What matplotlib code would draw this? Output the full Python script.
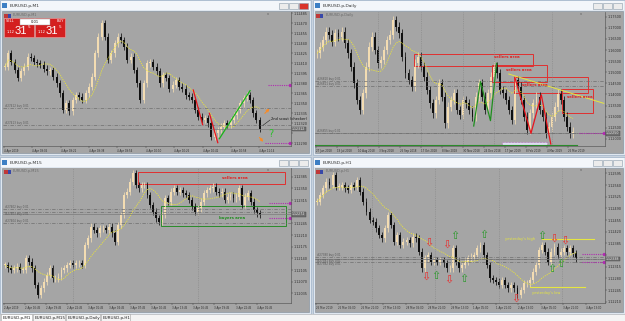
import numpy as np
import matplotlib
matplotlib.use("Agg")
import matplotlib.pyplot as plt
from matplotlib.patches import Rectangle
from matplotlib.ticker import MultipleLocator

W, H = 625, 321
GRAY = '#a5a5a5'
BULL = '#f3dcb2'
BEAR = '#101010'
MA_COL = '#e9e43a'
LEVEL = '#6e6e6e'
PURPLE = '#b02cb0'
RED = '#e8141c'
GREEN = '#22a022'

# EURUSD.p,M1 closes, points above base
m1_base, m1_unit = 1.12280, 1e-5
m1_close = [125, 145, 132, 120, 108, 118, 125, 140, 138, 132, 130, 128, 122, 118, 120, 110, 100, 85, 60, 70,
            58, 75, 82, 80, 75, 85, 95, 110, 145, 170, 190, 170, 135, 145, 160, 170, 165, 155, 135, 140,
            120, 100, 75, 100, 130, 132, 125, 118, 100, 112, 108, 92, 98, 105, 95, 92, 82, 80, 75, 60,
            50, 45, 48, 40, 20, 25, 30, 35, 40, 38, 45, 52, 60, 70, 78, 82, 75, 55, 45, 32]
m1_times = ["4 Apr 2019", "4 Apr 09:06", "4 Apr 09:22", "4 Apr 09:38", "4 Apr 09:54",
            "4 Apr 10:10", "4 Apr 10:26", "4 Apr 10:42", "4 Apr 10:58", "4 Apr 11:14"]

# EURUSD.p,Daily closes, pips above base
d1_base, d1_unit = 1.1150, 1e-4
d1_close = [435, 465, 495, 532, 518, 488, 525, 510, 532, 480,
            435, 375, 300, 225, 180, 255, 375, 465, 510, 450,
            390, 405, 450, 495, 518, 585, 555, 525, 420, 345,
            315, 285, 390, 420, 375, 330, 270, 210, 165, 225,
            300, 240, 120, 195, 225, 255, 180, 158, 225, 210,
            180, 150, 240, 300, 240, 180, 255, 330, 375, 345,
            270, 255, 225, 180, 135, 315, 285, 225, 150, 90,
            165, 210, 240, 180, 150, 75, 105, 150, 195, 255,
            225, 150, 105, 75, 82]
d1_times = ["27 Jun 2018", "19 Jul 2018", "10 Aug 2018", "3 Sep 2018", "25 Sep 2018", "17 Oct 2018",
            "8 Nov 2018", "30 Nov 2018", "24 Dec 2018", "17 Jan 2019", "8 Feb 2019", "4 Mar 2019",
            "26 Mar 2019"]

# EURUSD.p,M15 closes, points above base
m15_base, m15_unit = 1.12000, 1e-5
m15_close = [120, 110, 105, 110, 115, 105, 105, 140, 130, 110,
             60, 30, 50, 70, 90, 110, 80, 80, 85, 105,
             110, 120, 125, 120, 125, 125, 120, 180, 200, 235,
             225, 215, 230, 230, 225, 235, 215, 190, 240, 270,
             330, 340, 370, 395, 360, 350, 360, 360, 330, 300,
             280, 260, 250, 270, 320, 310, 340, 350, 340, 345,
             335, 330, 315, 295, 280, 290, 310, 335, 345, 350,
             355, 340, 335, 340, 315, 325, 330, 320, 325, 350,
             300, 325, 335, 310, 285, 275, 270]
m15_times = ["2 Apr 2019", "2 Apr 16:45", "2 Apr 19:45", "2 Apr 22:45", "3 Apr 01:45", "3 Apr 04:45",
             "3 Apr 07:45", "3 Apr 10:45", "3 Apr 13:45", "3 Apr 16:45", "3 Apr 19:45", "3 Apr 22:45",
             "4 Apr 01:45"]

# EURUSD.p,H1 closes, points above base
h1_base, h1_unit = 1.12200, 1e-5
h1_close = [310, 330, 350, 370, 360, 390, 355, 355, 360, 350,
            345, 360, 355, 375, 340, 310, 280, 255, 250, 230,
            210, 200, 230, 270, 240, 190, 210, 180, 190, 195,
            185, 205, 200, 160, 110, 140, 150, 130, 135, 130,
            135, 125, 110, 110, 170, 130, 110, 120, 130, 140,
            145, 150, 170, 180, 150, 120, 80, 75, 70, 60,
            75, 60, 50, 60, 50, 30, 45, 65, 65, 75,
            100, 120, 165, 180, 160, 130, 160, 175, 150, 160,
            170, 160, 170, 155, 140]
h1_times = ["25 Mar 2019", "26 Mar 05:00", "26 Mar 21:00", "27 Mar 13:00", "28 Mar 05:00", "28 Mar 21:00",
            "29 Mar 13:00", "1 Apr 05:00", "1 Apr 21:00", "2 Apr 13:00", "3 Apr 05:00", "3 Apr 21:00",
            "4 Apr 13:00"]
h1_down = [(35.1, 85), (36.2, 188), (42.2, 182), (42.7, 75), (64.5, 18), (76.8, 200), (80.3, 192)]
h1_up = [(38.4, 88), (44.6, 207), (47.7, 78), (54.1, 210), (73.0, 207), (76.0, 107), (79.1, 123)]

fig = plt.figure(figsize=(W / 100, H / 100), dpi=100)
fig.patch.set_facecolor('#c9d3de')


def fx(x):
    return x / W


def fy(y):
    return 1 - y / H


def rect_px(x0, y0, x1, y1, z=-5, **kw):
    r = Rectangle((fx(x0), fy(y1)), (x1 - x0) / W, (y1 - y0) / H, transform=fig.transFigure,
                  zorder=z, **kw)
    fig.add_artist(r)
    return r


def text_px(x, y, s, **kw):
    return fig.text(fx(x), fy(y), s, **kw)


def window(x0, y0, x1, y1, title, active):
    rect_px(x0, y0, x1, y1, fc='#dfe7f0', ec='#9fb3c8', lw=0.5)
    rect_px(x0 + 1, y0 + 1, x1 - 1, y0 + 10, fc='#f3f6fa', ec='none')
    rect_px(x0 + 2, y0 + 2.5, x0 + 7, y0 + 8, fc='#3d7fc4', ec='none')
    text_px(x0 + 10, y0 + 5.8, title, fontsize=3.2, color='#333333', va='center')
    for i in range(3):
        bx = x1 - 32 + i * 10
        fc = '#d9342b' if (active and i == 2) else '#ececec'
        rect_px(bx, y0 + 3, bx + 9, y0 + 8.5, fc=fc, ec='#8a9aaa', lw=0.4)
    rect_px(x0 + 2, y0 + 11, x1 - 2, y1 - 2, fc=GRAY, ec='#7d8a96', lw=0.4)


def chart(box, closes, base, unit, wick, ma_n, xlim, ylim, ystep, times, tstep, name, tag):
    ax = fig.add_axes([fx(box[0]), fy(box[3]), (box[2] - box[0]) / W, (box[3] - box[1]) / H])
    ax.set_facecolor(GRAY)
    c = base + np.asarray(closes, float) * unit
    o = np.r_[c[0], c[:-1]]
    x = np.arange(len(c))
    cols = np.where(c >= o, BULL, BEAR)
    ax.vlines(x, np.minimum(o, c) - wick * unit, np.maximum(o, c) + wick * unit, colors=cols, lw=0.55)
    ax.bar(x, np.maximum(np.abs(c - o), 1.5 * unit), bottom=np.minimum(o, c), width=0.62,
           color=cols, lw=0)
    m = np.array([c[max(0, i - ma_n + 1):i + 1].mean() for i in range(len(c))])
    ax.plot(x, m, color=MA_COL, lw=0.6, ls=(0, (1.5, 1.2)))
    ax.set_xlim(*xlim)
    lo, hi = base + ylim[0] * unit, base + ylim[1] * unit
    ax.set_ylim(lo, hi)
    ax.yaxis.tick_right()
    # price scale, the label hidden under the current price tag is left out
    tag_y = base + tag * unit
    yt = [t for t in MultipleLocator(ystep).tick_values(lo, hi) if lo <= t <= hi]
    ax.set_yticks(yt)
    ax.set_yticklabels(['' if abs(t - tag_y) < 0.45 * ystep else '%.5f' % t for t in yt])
    ax.set_xticks(np.arange(len(times)) * tstep + xlim[0] + 0.3)
    ax.set_xticklabels(times, ha='left')
    ax.tick_params(labelsize=2.4, colors='#2e2e2e', length=1.3, width=0.3, pad=0.6)
    ax.tick_params(axis='x', labelsize=1.9)
    for s in ['top', 'left']:
        ax.spines[s].set_visible(False)
    for s in ['right', 'bottom']:
        ax.spines[s].set_color('#5c5c5c')
        ax.spines[s].set_linewidth(0.5)
    ax.add_patch(Rectangle((0.004, 0.955), 0.012, 0.03, transform=ax.transAxes, fc='#c03838', lw=0))
    ax.add_patch(Rectangle((0.017, 0.955), 0.012, 0.03, transform=ax.transAxes, fc='#3848a8', lw=0))
    ax.text(0.035, 0.992, name, transform=ax.transAxes, fontsize=2.5, color='#6a6a6a', va='top')
    ax.text(0.915, 1.0, 'v', transform=ax.transAxes, fontsize=2.5, color='#555555', va='top')
    ax.axhline(tag_y, color='#7a7a7a', lw=0.5)
    ax.text(1.004, tag_y, '%.5f' % tag_y, transform=ax.get_yaxis_transform(), fontsize=2.3,
            color='#e8e8e8', va='center', ha='left', zorder=10,
            bbox=dict(boxstyle='square,pad=0.15', fc='#707070', ec='#444444', lw=0.3))
    P = lambda v: base + v * unit
    return ax, P


def level(ax, y, label, va='bottom'):
    ax.axhline(y, color=LEVEL, lw=0.5, ls=(0, (5, 2, 1, 2)))
    ax.text(ax.get_xlim()[0] + 0.6, y, label, fontsize=2.0, color='#5a5a5a', va=va)


def purple(ax, x0, y):
    x1 = ax.get_xlim()[1]
    ax.plot([x0, x1 - 0.4], [y, y], color=PURPLE, ls=(0, (1, 1)), lw=0.8)
    ax.plot([x1 - 0.4], [y], marker='s', ms=1.3, color=PURPLE, clip_on=False)


def box(ax, x0, y0, x1, y1, color):
    ax.add_patch(Rectangle((x0, y0), x1 - x0, y1 - y0, fill=False, ec=color, lw=0.7))


window(0, 0, 311, 155, 'EURUSD.p,M1', True)
window(313, 0, 625, 155, 'EURUSD.p,Daily', False)
window(0, 157, 311, 314, 'EURUSD.p,M15', False)
window(313, 157, 625, 314, 'EURUSD.p,H1', False)

# ---- M1 ----
ax, P = chart((3, 12, 291, 146), m1_close, m1_base, m1_unit, 5, 8, (-0.6, 88.7), (6, 207), 0.00015,
              m1_times, 8.8, 'EURUSD.p,M1', 31.5)
level(ax, P(62.5), '#27412 buy 0.01')
level(ax, P(37.5), '#27413 buy 0.01')
purple(ax, 81.5, P(97))
purple(ax, 80.5, P(10))
ax.plot([58.4, 61.3], [P(90), P(38)], color=RED, lw=0.9)
ax.plot([63.4, 66.0], [P(55), P(11)], color=RED, lw=0.9)
ax.plot([66.5, 76.0], [P(17), P(89)], color='#18b418', lw=0.9)
ax.annotate('', xy=(82.6, P(65)), xytext=(80.0, P(52)),
            arrowprops=dict(arrowstyle='->', color='#ff8a1e', lw=0.8, mutation_scale=4))
ax.annotate('', xy=(80.6, P(9)), xytext=(78.4, P(22)),
            arrowprops=dict(arrowstyle='->', color='#ff8a1e', lw=0.8, mutation_scale=4))
ax.text(82.5, P(24), '?', fontsize=7, color='#2cbf2c', ha='center', va='center')
ax.plot([80.0, 82.2], [P(37), P(45)], color='#222222', lw=0.4)
ax.text(82.5, P(47), '2nd scout (checker)', fontsize=2.6, color='#111111', va='center')

# trade panel
for i, (lab, lx) in enumerate([('SELL', 6), ('BUY', 57)]):
    bx = 4 + i * 31
    rect_px(bx, 18, bx + 30, 37, z=5, fc='#d41f1f', ec='#f0a0a0', lw=0.4)
    text_px(lx, 21.5, lab, fontsize=2.6, color='white', va='center', zorder=6)
    text_px(bx + 3, 32, '1.12', fontsize=2.6, color='white', va='center', zorder=6)
    text_px(bx + 11, 31, '31', fontsize=8, color='white', va='center', family='Liberation Sans', zorder=6)
    text_px(bx + 24, 27.5, '5', fontsize=3, color='white', va='center', zorder=6)
rect_px(20, 18.5, 50, 25, z=5, fc='white', ec='#999999', lw=0.3)
text_px(35, 21.8, '0.01', fontsize=2.6, color='#111111', va='center', ha='center', zorder=6)

# ---- Daily ----
ax, P = chart((315, 12, 605, 146), d1_close, d1_base, d1_unit, 20, 10, (-0.7, 94.5), (18, 621), 0.005,
              d1_times, 6.9, 'EURUSD.p,Daily', 75)
for gx in [20, 34, 48, 58, 77]:
    ax.axvline(gx, color='#858585', lw=0.4, ls=(0, (2, 2)))
level(ax, P(310), '#26810 buy 0.01')
level(ax, P(288), '#26811 buy 0.01')
level(ax, P(75), '#26855 buy 0.01')
purple(ax, 86, P(75))
ax.plot([-0.7, 85.3], [P(21), P(21)], color='#2b8a2b', lw=0.8)
ax.add_patch(Rectangle((60.7, P(20)), 14.8, P(38) - P(20), fc='#dcdcf0', ec=PURPLE, lw=0.4, ls=':'))
ax.plot([64.9, 70.2, 73.6, 76.7], [P(327), P(75), P(248), P(27)], color=RED, lw=0.9)
ax.plot([51.4, 53.6, 56.9, 58.9], [P(108), P(308), P(132), P(390)], color='#1f8f1f', lw=0.9)
ax.plot([62.9, 94.1], [P(342), P(210)], color='#e6e640', lw=0.7)
for (x0, y0, x1, y1, tx, ty) in [(31.9, 380, 70.8, 432, 62.4, 417), (57.4, 305, 75.5, 381, 66.2, 360),
                                 (64.6, 255, 88.8, 330, 71.4, 293), (80.4, 168, 90.5, 273, 86.4, 240)]:
    box(ax, x0, P(y0), x1, P(y1), '#e03030')
    ax.text(tx, P(ty), 'sellers area', fontsize=2.8, color='#e02020', ha='center', va='center',
            fontweight='bold')

# ---- M15 ----
ax, P = chart((3, 168, 291, 303), m15_close, m15_base, m15_unit, 10, 10, (-0.7, 96.4), (6, 411), 0.00035,
              m15_times, 7.1, 'EURUSD.p,M15', 272)
for gx in [22.8, 65.2]:
    ax.axvline(gx, color='#858585', lw=0.4, ls=(0, (2, 2)))
level(ax, P(288), '#27402 buy 0.01')
level(ax, P(278), '#27403 buy 0.01', va='top')
level(ax, P(245), '#27404 buy 0.01')
purple(ax, 89, P(305))
purple(ax, 89, P(262))
box(ax, 44.9, P(362), 94.4, P(398), '#e03030')
ax.text(77.5, P(380), 'sellers area', fontsize=2.8, color='#e02020', ha='center', va='center',
        fontweight='bold')
box(ax, 52.5, P(237), 94.6, P(297), '#2a8c2a')
ax.text(76.6, P(260), 'buyers area', fontsize=2.8, color='#1e8e1e', ha='center', va='center',
        fontweight='bold')

# ---- H1 ----
ax, P = chart((315, 168, 605, 303), h1_close, h1_base, h1_unit, 10, 14, (-0.7, 93.4), (6, 411), 0.00035,
              h1_times, 7.3, 'EURUSD.p,H1', 138)
for gx in [17.8, 38.4, 58.9, 79.5]:
    ax.axvline(gx, color='#858585', lw=0.4, ls=(0, (2, 2)))
level(ax, P(145), '#27380 buy 0.01')
level(ax, P(138), '#27381 buy 0.01', va='top')
level(ax, P(128), '#27382 buy 0.01', va='top')
purple(ax, 86, P(153))
purple(ax, 86, P(130))
ax.plot([73, 89.7], [P(198), P(198)], color='#e6e640', lw=0.8)
ax.text(60.8, P(198), "yesterday's high", fontsize=2.6, color='#e6e640', va='center')
ax.plot([69.2, 87], [P(53), P(53)], color='#e6e640', lw=0.8)
ax.text(69.7, P(37), "yesterday's low", fontsize=2.6, color='#e6e640', va='center')
for (ax_x, v) in h1_down:
    ax.text(ax_x, P(v), '\u21e9', fontsize=8, color='#e83030', ha='center', va='center')
for (ax_x, v) in h1_up:
    ax.text(ax_x, P(v), '\u21e7', fontsize=8, color='#2a9a2a', ha='center', va='center')

# tab bar
rect_px(0, 314, 625, 321, fc='#f4f4f4', ec='#b8b8b8', lw=0.4)
for lab, x0, x1, sel in [('EURUSD.p,M1', 0, 32, True), ('EURUSD.p,M15', 32, 65, False),
                         ('EURUSD.p,Daily', 65, 100, False), ('EURUSD.p,H1', 100, 130, False)]:
    rect_px(x0 + 0.5, 314, x1, 321, fc='white' if sel else '#f4f4f4', ec='#a0a0a0', lw=0.4)
    text_px(x0 + 3, 317.8, lab, fontsize=3, color='#222222', va='center')

fig.savefig('out.png', dpi=100, facecolor=fig.get_facecolor())
